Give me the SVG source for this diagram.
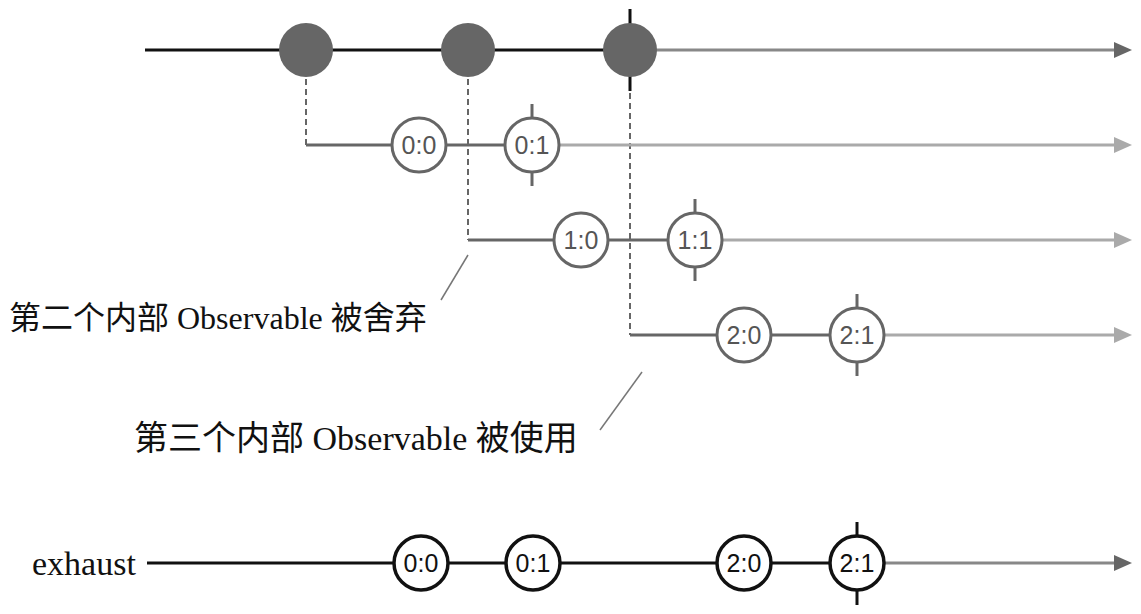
<svg xmlns="http://www.w3.org/2000/svg" width="1141" height="614" viewBox="0 0 1141 614">
<style>
.bg{fill:#ffffff}
.blk{stroke:#111;stroke-width:3;fill:none}
.dk{stroke:#666;stroke-width:3;fill:none}
.lt{stroke:#aaa;stroke-width:3;fill:none}
.mid{stroke:#888;stroke-width:3;fill:none}
.dash{stroke:#666;stroke-width:2;stroke-dasharray:6 4;fill:none}
.slash{stroke:#777;stroke-width:1.5;fill:none}
.src{fill:#666}
.inner circle{fill:#fff;stroke:#666;stroke-width:3}
.inner text{fill:#555}
.out circle{fill:#fff;stroke:#111;stroke-width:3.5}
.out text{fill:#111}
.val{font-family:"Liberation Sans",Arial,sans-serif;font-size:25px;text-anchor:middle}
.lbl{font-family:"Liberation Serif","Noto Sans CJK SC",serif;fill:#111}
</style>
<rect class="bg" x="0" y="0" width="1141" height="614"/>
<g id="connectors">
  <line class="blk" x1="145" y1="50" x2="630" y2="50"/>
  <line class="mid" x1="630" y1="50" x2="1116" y2="50"/>
  <polygon points="1114,42 1132,50 1114,58" fill="#666"/>
  <line class="blk" x1="630" y1="9" x2="630" y2="91"/>
  <line class="dash" x1="306" y1="79" x2="306" y2="145"/>
  <line class="dash" x1="468" y1="79" x2="468" y2="240"/>
  <line class="dash" x1="630" y1="93" x2="630" y2="335"/>
  <line class="dk" x1="306" y1="145" x2="532" y2="145"/>
  <line class="lt" x1="532" y1="145" x2="1116" y2="145"/>
  <polygon points="1114,137 1132,145 1114,153" fill="#aaa"/>
  <line class="dk" x1="532" y1="104" x2="532" y2="186"/>
  <line class="dk" x1="468" y1="240" x2="695" y2="240"/>
  <line class="lt" x1="695" y1="240" x2="1116" y2="240"/>
  <polygon points="1114,232 1132,240 1114,248" fill="#aaa"/>
  <line class="dk" x1="695" y1="199" x2="695" y2="281"/>
  <line class="dk" x1="630" y1="335" x2="857" y2="335"/>
  <line class="lt" x1="857" y1="335" x2="1116" y2="335"/>
  <polygon points="1114,327 1132,335 1114,343" fill="#aaa"/>
  <line class="dk" x1="857" y1="294" x2="857" y2="376"/>
  <line class="blk" x1="147" y1="563" x2="857" y2="563"/>
  <line class="mid" x1="857" y1="563" x2="1116" y2="563"/>
  <polygon points="1114,555 1132,563 1114,571" fill="#666"/>
  <line class="blk" x1="857" y1="522" x2="857" y2="605"/>
  <line class="slash" x1="468" y1="255" x2="441" y2="300"/>
  <line class="slash" x1="642" y1="372" x2="600" y2="430"/>
</g>
<g id="source">
  <circle class="src" cx="306" cy="50" r="27"/>
  <circle class="src" cx="468" cy="50" r="27"/>
  <circle class="src" cx="630" cy="50" r="27"/>
</g>
<g id="inner0" class="inner">
  <circle cx="419" cy="145" r="27"/><text class="val" x="419" y="154">0:0</text>
  <circle cx="532" cy="145" r="27"/><text class="val" x="532" y="154">0:1</text>
</g>
<g id="inner1" class="inner">
  <circle cx="581" cy="240" r="27"/><text class="val" x="581" y="249">1:0</text>
  <circle cx="695" cy="240" r="27"/><text class="val" x="695" y="249">1:1</text>
</g>
<g id="inner2" class="inner">
  <circle cx="744" cy="335" r="27"/><text class="val" x="744" y="344">2:0</text>
  <circle cx="857" cy="335" r="27"/><text class="val" x="857" y="344">2:1</text>
</g>
<g id="output" class="out">
  <circle cx="421" cy="563" r="27"/><text class="val" x="421" y="572">0:0</text>
  <circle cx="533" cy="563" r="27"/><text class="val" x="533" y="572">0:1</text>
  <circle cx="744" cy="563" r="27"/><text class="val" x="744" y="572">2:0</text>
  <circle cx="857" cy="563" r="27"/><text class="val" x="857" y="572">2:1</text>
</g>
<g id="labels">
  <text class="lbl" x="9" y="329" font-size="32">第二个内部 Observable 被舍弃</text>
  <text class="lbl" x="134" y="450" font-size="34">第三个内部 Observable 被使用</text>
  <text class="lbl" x="32" y="575" font-size="34">exhaust</text>
</g>
</svg>
